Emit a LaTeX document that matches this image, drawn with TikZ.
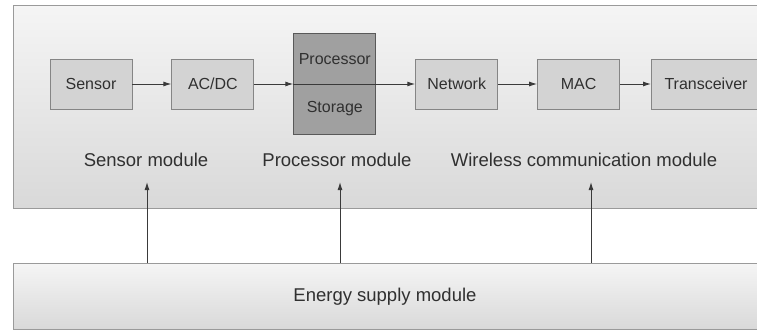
\documentclass[tikz,border=0pt]{standalone}
\usepackage{fontspec}
\setmainfont{Liberation Sans}
\usetikzlibrary{positioning,arrows.meta}

\definecolor{boxfill}{HTML}{D3D3D3}
\definecolor{procfill}{HTML}{A0A0A0}
\definecolor{boxline}{HTML}{858585}
\definecolor{frameline}{HTML}{9A9A9A}
\definecolor{txt}{HTML}{303030}
\definecolor{arrowc}{HTML}{3A3A3A}

\begin{document}
\begin{tikzpicture}[x=1pt,y=1pt,node distance=39pt,
  unit/.style={draw=boxline,line width=0.9pt,fill=boxfill,minimum width=82pt,
    minimum height=50pt,inner sep=0pt,text=txt,font=\fontsize{16}{19}\selectfont},
  modlabel/.style={text=txt,font=\fontsize{18.5}{22}\selectfont},
  frame/.style={draw=frameline,line width=0.9pt,top color=gray!8,bottom color=gray!30,
    minimum width=745pt,inner sep=0pt},
  link/.style={draw=arrowc,line width=1pt,-{Latex[length=8pt,width=5pt]}}]
  \useasboundingbox (0,0) rectangle (757,333);
  % node frame and energy supply
  \node[frame,minimum height=203pt,anchor=north west] (sysbox) at (13,328) {};
  \node[frame,minimum height=66pt,anchor=south west] (energy) at (13,3) {};
  \node[modlabel] (energytxt) at ([xshift=-1pt]energy.center) {Energy supply module};

  % data path
  \node[unit] (sensor) at (91,249) {Sensor};
  \node[unit,right=of sensor] (acdc) {AC/DC};
  \node[unit,right=of acdc,fill=procfill,draw=gray!70!black,minimum height=101pt] (proc) {};
  \node[text=txt,font=\fontsize{16}{19}\selectfont] (proctxt) at ([yshift=25pt]proc.center) {Processor};
  \node[text=txt,font=\fontsize{16}{19}\selectfont] (stortxt) at ([yshift=-25pt]proc.center) {Storage};
  \node[unit,right=of proc] (network) {Network};
  \node[unit,right=of network] (mac) {MAC};
  \node[unit,right=31pt of mac,minimum width=109pt] (trans) {Transceiver};

  \draw[draw=arrowc,line width=0.9pt] (proc.west) -- (proc.east);
  \draw[link] (sensor) -- (acdc);
  \draw[link] (acdc) -- (proc);
  \draw[link] (proc) -- (network);
  \draw[link] (network) -- (mac);
  \draw[link] (mac) -- (trans);

  % module labels
  \node[modlabel] (sensmod) at (146,173) {Sensor module};
  \node[modlabel] (procmod) at (337,173) {Processor module};
  \node[modlabel] (wirelessmod) at (584,173) {Wireless communication module};

  % power feeds
  \coordinate (feeda) at (147,151);
  \coordinate (feedb) at (340,151);
  \coordinate (feedc) at (591,151);
  \foreach \f in {feeda,feedb,feedc}
    \draw[link] (energy.north -| \f) -- (\f);
\end{tikzpicture}
\end{document}
